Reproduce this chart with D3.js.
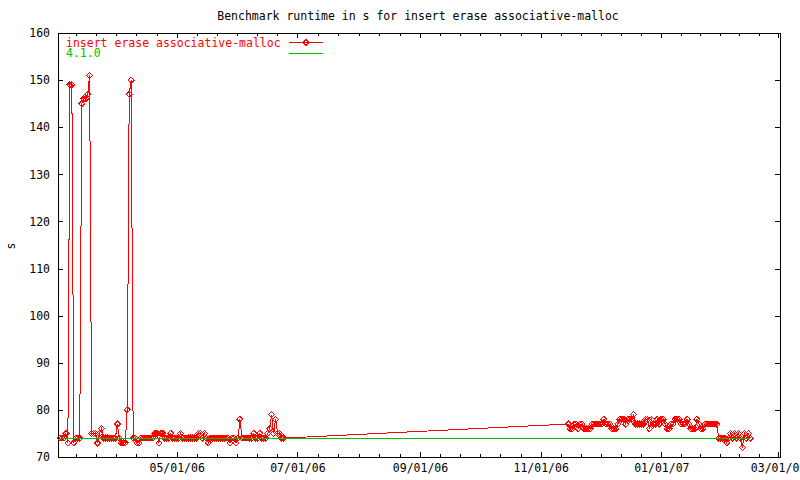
<!DOCTYPE html>
<html>
<head>
<meta charset="utf-8">
<script src="https://cdn.jsdelivr.net/npm/d3@7"></script>
<style>
  html, body { margin: 0; padding: 0; background: #fff; }
  svg { display: block; }
  text { font-family: "DejaVu Sans Mono", "Liberation Mono", monospace; font-size: 11.5px; }
</style>
</head>
<body>
<svg id="chart" width="800" height="480"></svg>
<script>
// ---------- data ----------
const titleText = "Benchmark runtime in s for insert erase associative-malloc";
const seriesName = "insert erase associative-malloc";
const baselineName = "4.1.0";
const yLabel = "s";

const dates1 = [
  "2006-03-03","2006-03-04","2006-03-05","2006-03-06","2006-03-07","2006-03-08","2006-03-09","2006-03-10",
  "2006-03-11","2006-03-12","2006-03-13","2006-03-14","2006-03-15","2006-03-16","2006-03-17","2006-03-18",
  "2006-03-19","2006-03-20","2006-03-21","2006-03-22","2006-03-23","2006-03-24","2006-03-25","2006-03-26",
  "2006-03-27","2006-03-28","2006-03-29","2006-03-30","2006-03-31",
  "2006-04-01","2006-04-02","2006-04-03","2006-04-04","2006-04-05","2006-04-06","2006-04-07","2006-04-08",
  "2006-04-09","2006-04-10","2006-04-11","2006-04-12","2006-04-13","2006-04-14","2006-04-15","2006-04-16",
  "2006-04-17","2006-04-18","2006-04-19","2006-04-20","2006-04-21","2006-04-22","2006-04-23","2006-04-24",
  "2006-04-25","2006-04-26","2006-04-27","2006-04-28","2006-04-29","2006-04-30",
  "2006-05-01","2006-05-02","2006-05-03","2006-05-04","2006-05-05","2006-05-06","2006-05-07","2006-05-08",
  "2006-05-09","2006-05-10","2006-05-11","2006-05-12","2006-05-13","2006-05-14","2006-05-15","2006-05-16",
  "2006-05-17","2006-05-18","2006-05-19","2006-05-20","2006-05-21","2006-05-22","2006-05-23","2006-05-24",
  "2006-05-25","2006-05-26","2006-05-27","2006-05-28","2006-05-29","2006-05-30","2006-05-31",
  "2006-06-01","2006-06-02","2006-06-03","2006-06-04","2006-06-05","2006-06-06","2006-06-07","2006-06-08",
  "2006-06-09","2006-06-10","2006-06-11","2006-06-12","2006-06-13","2006-06-14","2006-06-15","2006-06-16",
  "2006-06-17","2006-06-18","2006-06-19","2006-06-20","2006-06-21","2006-06-22","2006-06-23","2006-06-24"
];
const values1 = [
  74,74,74,75,73,149,149,73,74,74,74,145,146,146,147,151,
  75,75,75,73,75,76,74,74,74,74,74,74,74,
  77,74,73,73,73,80,147,150,74,74,73,73,74,74,74,74,
  74,74,74,75,75,73,75,75,74,74,74,75,74,74,
  74,74,75,74,74,74,74,74,74,74,74,75,75,74,75,74,
  73,74,74,74,74,74,74,74,74,74,74,73,74,74,73,
  74,78,74,74,74,74,74,74,75,74,74,75,74,74,74,75,
  76,79,75,78,75,75,74,74
];

const dates2 = [
  "2006-11-15","2006-11-16","2006-11-17","2006-11-18","2006-11-19","2006-11-20","2006-11-21","2006-11-22",
  "2006-11-23","2006-11-24","2006-11-25","2006-11-26","2006-11-27","2006-11-28","2006-11-29","2006-11-30",
  "2006-12-01","2006-12-02","2006-12-03","2006-12-04","2006-12-05","2006-12-06","2006-12-07","2006-12-08",
  "2006-12-09","2006-12-10","2006-12-11","2006-12-12","2006-12-13","2006-12-14","2006-12-15","2006-12-16",
  "2006-12-17","2006-12-18","2006-12-19","2006-12-20","2006-12-21","2006-12-22","2006-12-23","2006-12-24",
  "2006-12-25","2006-12-26","2006-12-27","2006-12-28","2006-12-29","2006-12-30","2006-12-31",
  "2007-01-01","2007-01-02","2007-01-03","2007-01-04","2007-01-05","2007-01-06","2007-01-07","2007-01-08",
  "2007-01-09","2007-01-10","2007-01-11","2007-01-12","2007-01-13","2007-01-14","2007-01-15","2007-01-16",
  "2007-01-17","2007-01-18","2007-01-19","2007-01-20","2007-01-21","2007-01-22","2007-01-23","2007-01-24",
  "2007-01-25","2007-01-26","2007-01-27","2007-01-28","2007-01-29","2007-01-30","2007-01-31",
  "2007-02-01","2007-02-02","2007-02-03","2007-02-04","2007-02-05","2007-02-06","2007-02-07","2007-02-08",
  "2007-02-09","2007-02-10","2007-02-11","2007-02-12","2007-02-13","2007-02-14","2007-02-15"
];
const values2 = [
  77,76,76,77,77,76,77,77,76,76,76,76,77,77,77,77,
  77,77,78,77,77,77,76,76,76,77,78,78,78,77,78,78,
  78,79,77,77,77,77,77,78,78,76,78,77,77,78,77,
  78,78,77,76,76,77,77,78,78,78,77,77,77,78,77,
  76,76,76,78,77,76,76,77,77,77,77,77,77,77,74,
  74,74,74,73,74,75,74,75,74,75,74,72,75,74,75,74
];

const baselineDates = ["2006-03-03", "2007-02-15"];
const baselineValues = [74, 74];

const yTicks = [70, 80, 90, 100, 110, 120, 130, 140, 150, 160];
const xMajorTicks = ["2006-03-01","2006-05-01","2006-07-01","2006-09-01","2006-11-01","2007-01-01","2007-03-01"];
const xDomain = ["2006-03-02", "2007-03-02"];
const yDomain = [70, 160];

// ---------- drawing ----------
(function draw() {
const parse = d3.timeParse("%Y-%m-%d");
const fmt = d3.timeFormat("%m/%d/%y");
const svg = d3.select("#chart");

const pLeft = 58, pRight = 780, pTop = 33, pBottom = 457;
const x = d3.scaleTime().domain(xDomain.map(parse)).range([pLeft, pRight]);
const y = d3.scaleLinear().domain(yDomain).range([pBottom, pTop]);

const RED = "#ff0000", GREEN = "#00c000";

const majors = xMajorTicks.map(parse);
const minors = [];
for (let i = 0; i < majors.length - 1; i++) {
  const a = +majors[i], b = +majors[i + 1];
  for (let k = 1; k < 6; k++) minors.push(new Date(a + (b - a) * k / 6));
}
const [d0, d1] = x.domain();
const majorsIn = majors.filter(d => d >= d0 && d <= d1);
const minorsIn = minors.filter(d => d >= d0 && d <= d1);

function styleAxis(g) {
  g.select(".domain").remove();
  g.selectAll("line").attr("stroke", "#000").attr("shape-rendering", "crispEdges");
  g.attr("font-family", null).attr("font-size", null);
  g.selectAll("text").attr("fill", "#000");
}

svg.append("g").attr("transform", `translate(0,${pBottom})`)
  .call(d3.axisBottom(x).tickValues(majorsIn).tickSize(-5).tickFormat(fmt).tickPadding(0))
  .call(styleAxis)
  .call(g => g.selectAll("text").attr("y", 15).attr("dy", null));
svg.append("g").attr("transform", `translate(0,${pBottom})`)
  .call(d3.axisBottom(x).tickValues(minorsIn).tickSize(-3).tickFormat(""))
  .call(styleAxis);
svg.append("g").attr("transform", `translate(0,${pTop})`)
  .call(d3.axisTop(x).tickValues(majorsIn).tickSize(-5).tickFormat(""))
  .call(styleAxis);
svg.append("g").attr("transform", `translate(0,${pTop})`)
  .call(d3.axisTop(x).tickValues(minorsIn).tickSize(-3).tickFormat(""))
  .call(styleAxis);
svg.append("g").attr("transform", `translate(${pLeft},0)`)
  .call(d3.axisLeft(y).tickValues(yTicks).tickSize(-5).tickPadding(8))
  .call(styleAxis);
svg.append("g").attr("transform", `translate(${pRight},0)`)
  .call(d3.axisRight(y).tickValues(yTicks).tickSize(-5).tickFormat(""))
  .call(styleAxis);

svg.append("rect")
  .attr("x", pLeft).attr("y", pTop)
  .attr("width", pRight - pLeft).attr("height", pBottom - pTop)
  .attr("fill", "none").attr("stroke", "#000").attr("shape-rendering", "crispEdges");

svg.append("text").attr("x", 418).attr("y", 20).attr("text-anchor", "middle").attr("fill", "#000").text(titleText);
svg.append("text").attr("transform", "translate(15,246) rotate(-90)").attr("text-anchor", "middle").attr("fill", "#000").text(yLabel);

const data1 = dates1.map((d, i) => ({ date: parse(d), value: values1[i] }));
const data2 = dates2.map((d, i) => ({ date: parse(d), value: values2[i] }));
const redData = data1.concat(data2);
const greenData = baselineDates.map((d, i) => ({ date: parse(d), value: baselineValues[i] }));

const line = d3.line().x(d => x(d.date)).y(d => y(d.value));
const diamond = "M0,-3L3,0L0,3L-3,0Z";

const plot = svg.append("g");
plot.append("path").datum(redData)
  .attr("d", line).attr("fill", "none").attr("stroke", RED).attr("stroke-width", 1)
  .attr("shape-rendering", "crispEdges");
plot.selectAll("path.pt").data(redData).join("path")
  .attr("class", "pt")
  .attr("transform", d => `translate(${x(d.date)},${y(d.value)})`)
  .attr("d", diamond).attr("fill", "none").attr("stroke", RED).attr("stroke-width", 1)
  .attr("shape-rendering", "crispEdges");
plot.append("path").datum(greenData)
  .attr("d", line).attr("fill", "none").attr("stroke", GREEN).attr("stroke-width", 1)
  .attr("shape-rendering", "crispEdges");

const lg = svg.append("g");
lg.append("text").attr("x", 66).attr("y", 46.5).attr("fill", RED).text(seriesName);
lg.append("line").attr("x1", 289).attr("x2", 323).attr("y1", 42.5).attr("y2", 42.5)
  .attr("stroke", RED).attr("shape-rendering", "crispEdges");
lg.append("path").attr("transform", "translate(306,42.5)").attr("d", diamond)
  .attr("fill", "none").attr("stroke", RED).attr("shape-rendering", "crispEdges");
lg.append("text").attr("x", 66).attr("y", 57).attr("fill", GREEN).text(baselineName);
lg.append("line").attr("x1", 289).attr("x2", 323).attr("y1", 53.5).attr("y2", 53.5)
  .attr("stroke", GREEN).attr("shape-rendering", "crispEdges");
})();
</script>
</body>
</html>
